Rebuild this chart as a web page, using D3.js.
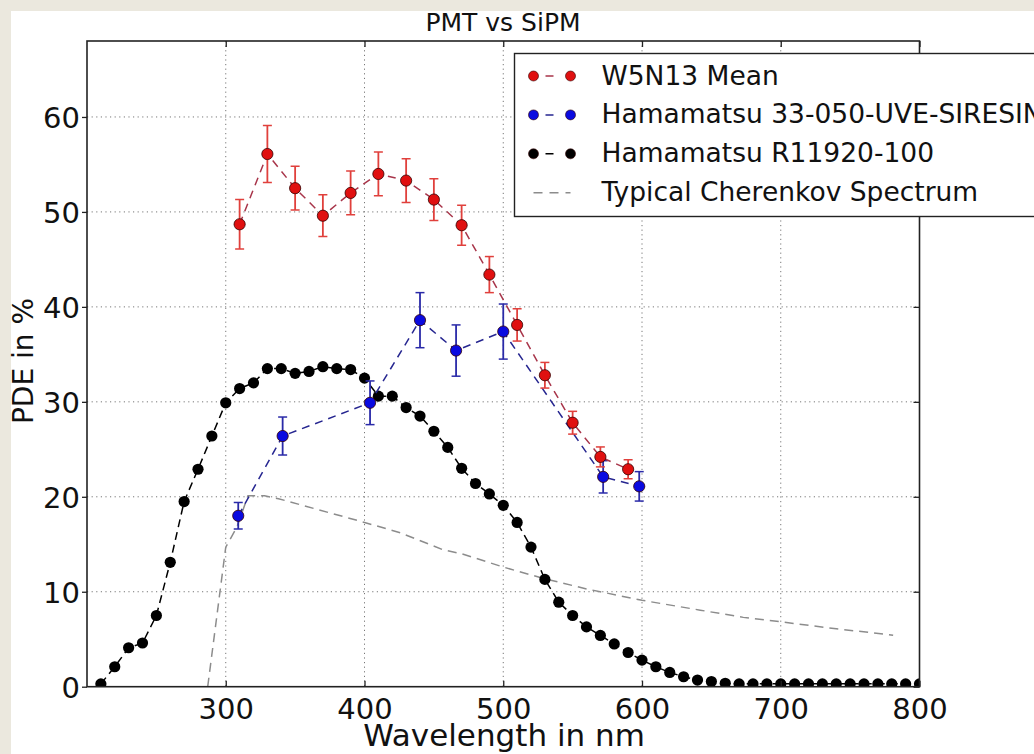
<!DOCTYPE html>
<html>
<head>
<meta charset="utf-8">
<script src="https://cdn.jsdelivr.net/npm/d3@7"></script>
<style>
  body { margin: 0; background: #ebe8de; }
  svg { display: block; font-family: "DejaVu Sans", sans-serif; }
</style>
</head>
<body>
<svg id="chart" width="1034" height="754"></svg>
<script>
// W5N13 mean (red, with error bars)
var redX = [310, 330, 350, 370, 390, 410, 430, 450, 470, 490, 510, 530, 550, 570, 590];
var redY = [48.7, 56.1, 52.5, 49.6, 52.0, 54.0, 53.3, 51.3, 48.6, 43.4, 38.1, 32.8, 27.8, 24.2, 22.9];
var redErr = [2.6, 3.0, 2.3, 2.2, 2.3, 2.3, 2.3, 2.2, 2.1, 1.9, 1.7, 1.35, 1.2, 1.05, 1.0];

// Hamamatsu 33-050-UVE-SIRESIN (blue, with error bars)
var blueX = [309, 341, 404, 440, 466, 500, 572, 598];
var blueY = [18.0, 26.4, 29.9, 38.6, 35.4, 37.4, 22.1, 21.1];
var blueErr = [1.4, 2.0, 2.3, 2.9, 2.7, 2.9, 1.7, 1.55];

// Hamamatsu R11920-100 (black)
var blackX = [210, 220, 230, 240, 250, 260, 270, 280, 290, 300, 310, 320, 330, 340, 350, 360, 370, 380, 390, 400,
              410, 420, 430, 440, 450, 460, 470, 480, 490, 500, 510, 520, 530, 540, 550, 560, 570, 580, 590, 600,
              610, 620, 630, 640, 650, 660, 670, 680, 690, 700, 710, 720, 730, 740, 750, 760, 770, 780, 790, 800];
var blackY = [0.3, 2.1, 4.1, 4.6, 7.5, 13.1, 19.5, 22.9, 26.4, 29.9, 31.4, 32.0, 33.5, 33.5, 33.0, 33.2, 33.7, 33.5, 33.4, 32.5,
              30.6, 30.6, 29.4, 28.5, 26.9, 25.2, 23.0, 21.4, 20.3, 19.1, 17.3, 14.7, 11.3, 8.9, 7.5, 6.3, 5.4, 4.5, 3.6, 2.8,
              2.1, 1.5, 1.05, 0.7, 0.55, 0.36, 0.3, 0.3, 0.3, 0.3, 0.3, 0.3, 0.3, 0.3, 0.3, 0.3, 0.3, 0.3, 0.3, 0.3];

// Typical Cherenkov spectrum (grey dashed)
var cherX = [287, 300, 308, 316, 328, 338, 400, 426, 457, 470, 500, 529, 560, 600, 642, 673, 700, 740, 781];
var cherY = [0, 14.7, 16.8, 20.1, 20.1, 19.8, 17.3, 16.2, 14.4, 14.0, 12.6, 11.4, 10.3, 9.1, 8.06, 7.3, 6.83, 6.1, 5.43];

var xTicks = [300, 400, 500, 600, 700, 800];
var yTicks = [0, 10, 20, 30, 40, 50, 60];

var legendLabels = ["W5N13 Mean", "Hamamatsu 33-050-UVE-SIRESIN", "Hamamatsu R11920-100", "Typical Cherenkov Spectrum"];

var svg = d3.select("#chart");

svg.append("rect").attr("x", 11).attr("y", 11).attr("width", 1023).attr("height", 743).attr("fill", "#ffffff");

var pLeft = 87, pTop = 41, pRight = 919.5, pBottom = 686.7;

var x = d3.scaleLinear().domain([200, 800]).range([pLeft, pRight]);
var y = d3.scaleLinear().domain([0, 68]).range([pBottom, pTop]);

svg.append("clipPath").attr("id", "plotclip")
  .append("rect").attr("x", pLeft).attr("y", pTop).attr("width", pRight - pLeft).attr("height", pBottom - pTop);

// grid
var grid = svg.append("g");
grid.selectAll(".gx").data(xTicks.filter(function(d) { return d < 800; })).enter().append("line")
  .attr("x1", function(d) { return x(d); }).attr("x2", function(d) { return x(d); })
  .attr("y1", pTop).attr("y2", pBottom)
  .attr("stroke", "#777").attr("stroke-width", 1).attr("stroke-dasharray", "1.2,3.4");
grid.selectAll(".gy").data(yTicks.filter(function(d) { return d > 0; })).enter().append("line")
  .attr("y1", function(d) { return y(d); }).attr("y2", function(d) { return y(d); })
  .attr("x1", pLeft).attr("x2", pRight)
  .attr("stroke", "#777").attr("stroke-width", 1).attr("stroke-dasharray", "1.2,3.4");

var plot = svg.append("g").attr("clip-path", "url(#plotclip)");

var line = d3.line().x(function(d) { return x(d[0]); }).y(function(d) { return y(d[1]); });

// cherenkov
plot.append("path").datum(d3.zip(cherX, cherY)).attr("d", line)
  .attr("fill", "none").attr("stroke", "#8c8c8c").attr("stroke-width", 1.5).attr("stroke-dasharray", "9,6");

// black series
plot.append("path").datum(d3.zip(blackX, blackY)).attr("d", line)
  .attr("fill", "none").attr("stroke", "#000").attr("stroke-width", 1.5).attr("stroke-dasharray", "8,5");
plot.selectAll(".bk").data(d3.zip(blackX, blackY)).enter().append("circle")
  .attr("cx", function(d) { return x(d[0]); }).attr("cy", function(d) { return y(d[1]); })
  .attr("r", 5.6).attr("fill", "#000");

function errSeries(xs, ys, es, lineCol, barCol, fill) {
  var pts = d3.zip(xs, ys, es);
  plot.append("path").datum(pts).attr("d", line)
    .attr("fill", "none").attr("stroke", lineCol).attr("stroke-width", 1.5).attr("stroke-dasharray", "8,6");
  var g = plot.selectAll(null).data(pts).enter().append("g");
  g.append("line")
    .attr("x1", function(d) { return x(d[0]); }).attr("x2", function(d) { return x(d[0]); })
    .attr("y1", function(d) { return y(d[1] - d[2]); }).attr("y2", function(d) { return y(d[1] + d[2]); })
    .attr("stroke", barCol).attr("stroke-width", 1.8);
  [1, -1].forEach(function(s) {
    g.append("line")
      .attr("x1", function(d) { return x(d[0]) - 4.5; }).attr("x2", function(d) { return x(d[0]) + 4.5; })
      .attr("y1", function(d) { return y(d[1] + s * d[2]); }).attr("y2", function(d) { return y(d[1] + s * d[2]); })
      .attr("stroke", barCol).attr("stroke-width", 1.5);
  });
  g.append("circle")
    .attr("cx", function(d) { return x(d[0]); }).attr("cy", function(d) { return y(d[1]); })
    .attr("r", 5.6).attr("fill", fill).attr("stroke", "#300").attr("stroke-width", 0.8);
}
errSeries(blueX, blueY, blueErr, "#262690", "#2a2aa8", "#0a0ae0");
errSeries(redX, redY, redErr, "#a8354a", "#e0403c", "#e01010");

// frame
svg.append("rect").attr("x", pLeft).attr("y", pTop).attr("width", pRight - pLeft).attr("height", pBottom - pTop)
  .attr("fill", "none").attr("stroke", "#222").attr("stroke-width", 1.6);

// axes with inward ticks
var xAxis = svg.append("g").attr("transform", "translate(0," + pBottom + ")")
  .call(d3.axisBottom(x).tickValues(xTicks).tickSize(-6).tickPadding(12));
var xTopAxis = svg.append("g").attr("transform", "translate(0," + pTop + ")")
  .call(d3.axisTop(x).tickValues(xTicks).tickSize(-6).tickFormat(""));
var yAxis = svg.append("g").attr("transform", "translate(" + pLeft + ",0)")
  .call(d3.axisLeft(y).tickValues(yTicks).tickSize(5).tickPadding(2));
var yRightAxis = svg.append("g").attr("transform", "translate(" + pRight + ",0)")
  .call(d3.axisRight(y).tickValues(yTicks).tickSize(-6).tickFormat(""));
[xAxis, xTopAxis, yAxis, yRightAxis].forEach(function(a) {
  a.select(".domain").remove();
  a.selectAll("line").attr("stroke", "#222").attr("stroke-width", 1.3);
  a.selectAll("text").attr("fill", "#111").style("font-size", "29px").style("font-family", "DejaVu Sans");
});
xAxis.selectAll("text").attr("dy", "0.71em");
yAxis.selectAll("text").attr("dy", "0.36em");

// title and axis labels
svg.append("text").attr("x", 503).attr("y", 31).attr("text-anchor", "middle")
  .style("font-size", "25px").attr("fill", "#111").text("PMT vs SiPM");
svg.append("text").attr("x", 504).attr("y", 746).attr("text-anchor", "middle")
  .style("font-size", "31px").attr("fill", "#111").text("Wavelength in nm");
svg.append("text").attr("transform", "translate(33,361) rotate(-90)").attr("text-anchor", "middle")
  .style("font-size", "28px").attr("fill", "#111").text("PDE in %");

// legend
var lg = svg.append("g");
lg.append("rect").attr("x", 514.5).attr("y", 53.5).attr("width", 700).attr("height", 163)
  .attr("fill", "#fff").attr("stroke", "#222").attr("stroke-width", 1.4);
var legendStyle = [
  { col: "#a8354a", fill: "#e01010", marker: true },
  { col: "#262690", fill: "#0a0ae0", marker: true },
  { col: "#000", fill: "#000", marker: true },
  { col: "#8c8c8c", fill: null, marker: false }
];
legendLabels.forEach(function(label, i) {
  var cy = 76 + i * 38.9;
  var st = legendStyle[i];
  lg.append("line").attr("x1", 533.5).attr("x2", 570.5).attr("y1", cy).attr("y2", cy)
    .attr("stroke", st.col).attr("stroke-width", 1.5).attr("stroke-dasharray", st.marker ? "0,12,8,30" : "9,7");
  if (st.marker) {
    [533.5, 570.5].forEach(function(cx) {
      lg.append("circle").attr("cx", cx).attr("cy", cy).attr("r", 5).attr("fill", st.fill)
        .attr("stroke", "#300").attr("stroke-width", 0.6);
    });
  }
  lg.append("text").attr("x", 601.5).attr("y", cy + 8.5).style("font-size", "26.5px").attr("fill", "#111").text(label);
});
</script>
</body>
</html>
